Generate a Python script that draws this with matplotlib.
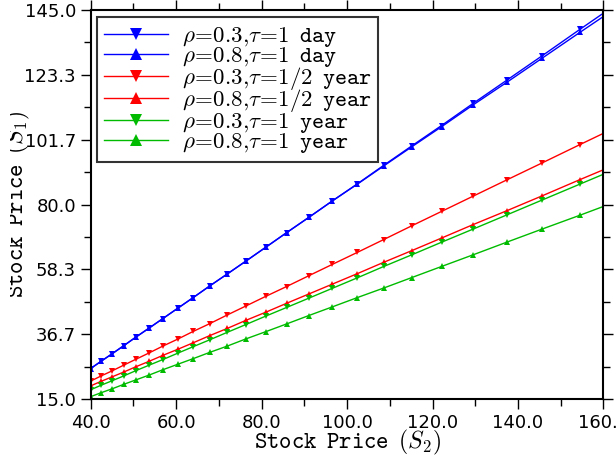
import numpy as np
import matplotlib
matplotlib.use("Agg")
import matplotlib.pyplot as plt
from matplotlib.transforms import Bbox

# S2 grid (log-spaced samples, last one lies past the right edge)
S2 = [40.00, 42.42, 44.99, 47.71, 50.59, 53.66, 56.90, 60.34, 63.99, 67.87,
      71.97, 76.33, 80.95, 85.85, 91.04, 96.55, 102.39, 108.58, 115.15, 122.11,
      129.50, 137.33, 145.64, 154.45, 163.79]

day_r03 = [25.2, 27.6, 30.1, 32.8, 35.7, 38.7, 41.9, 45.3, 48.9, 52.8,
           56.8, 61.1, 65.7, 70.6, 75.7, 81.2, 86.9, 93.1, 99.6, 106.4,
           113.8, 121.5, 129.7, 138.5, 147.7]
day_r08 = [25.2, 27.6, 30.1, 32.8, 35.7, 38.7, 41.9, 45.3, 48.9, 52.8,
           56.8, 61.1, 65.7, 70.6, 75.7, 81.2, 86.8, 92.9, 99.3, 106.0,
           113.3, 120.8, 128.9, 137.5, 146.5]
half_r03 = [21.0, 22.7, 24.4, 26.3, 28.3, 30.4, 32.7, 35.0, 37.6, 40.2,
            43.1, 46.1, 49.3, 52.6, 56.2, 60.0, 64.0, 68.3, 72.9, 77.7,
            82.8, 88.2, 93.9, 100.0, 106.4]
half_r08 = [19.4, 20.9, 22.4, 24.0, 25.8, 27.6, 29.6, 31.6, 33.8, 36.2,
            38.6, 41.3, 44.0, 47.0, 50.1, 53.4, 56.9, 60.7, 64.6, 68.8,
            73.3, 77.9, 82.9, 88.3, 93.9]
year_r03 = [18.1, 19.6, 21.1, 22.7, 24.5, 26.3, 28.2, 30.3, 32.5, 34.8,
            37.3, 39.9, 42.7, 45.6, 48.7, 52.0, 55.5, 59.3, 63.2, 67.4,
            71.8, 76.5, 81.5, 86.8, 92.4]
year_r08 = [15.8, 17.1, 18.4, 19.9, 21.4, 23.0, 24.8, 26.6, 28.5, 30.6,
            32.7, 35.1, 37.5, 40.1, 42.9, 45.8, 48.9, 52.1, 55.6, 59.3,
            63.2, 67.4, 71.8, 76.4, 81.4]

labels = [
    r"$\rho\!=\!\mathsf{0.3}{,}\tau\!=\!\mathsf{1}\enspace\mathtt{day}$",
    r"$\rho\!=\!\mathsf{0.8}{,}\tau\!=\!\mathsf{1}\enspace\mathtt{day}$",
    r"$\rho\!=\!\mathsf{0.3}{,}\tau\!=\!\mathsf{1/2}\enspace\mathtt{year}$",
    r"$\rho\!=\!\mathsf{0.8}{,}\tau\!=\!\mathsf{1/2}\enspace\mathtt{year}$",
    r"$\rho\!=\!\mathsf{0.3}{,}\tau\!=\!\mathsf{1}\enspace\mathtt{year}$",
    r"$\rho\!=\!\mathsf{0.8}{,}\tau\!=\!\mathsf{1}\enspace\mathtt{year}$",
]
series = [day_r03, day_r08, half_r03, half_r08, year_r03, year_r08]

COLORS = ["#0000ff", "#0000ff", "#ff0000", "#ff0000", "#00bb00", "#00bb00"]
MARKERS = ["v", "^", "v", "^", "v", "^"]

plt.rcParams.update({
    "mathtext.fontset": "cm",
    "font.family": "DejaVu Sans",
    "axes.linewidth": 1.5,
})

fig = plt.figure(figsize=(6.16, 4.55), dpi=100)
ax = fig.add_axes([0.1472, 0.123, 0.8325, 0.855])

for ys, lab, c, m in zip(series, labels, COLORS, MARKERS):
    ax.plot(S2, ys, color=c, lw=1.0, marker=m, markersize=4.5,
            markeredgewidth=0, label=lab)

ax.set_xlim(40, 160)
ax.set_ylim(15, 145)

ax.set_xticks(np.arange(40, 161, 20))
ax.set_xticks(np.arange(40, 161, 10), minor=True)
ax.set_xticklabels([f"{v:.1f}" for v in np.arange(40, 161, 20)])
yt = np.linspace(15, 145, 7)
ax.set_yticks(yt)
ax.set_yticks(np.linspace(15, 145, 13), minor=True)
ax.set_yticklabels([f"{v:.1f}" for v in yt])

ax.tick_params(which="both", direction="out", top=True, right=True,
               labelsize=13, width=1.0)
ax.tick_params(which="major", length=7)
ax.tick_params(which="minor", length=5)

ax.set_xlabel(r"$\mathtt{Stock}\enspace\mathtt{Price}\enspace(S_2)$", fontsize=17)
ax.set_ylabel(r"$\mathtt{Stock}\enspace\mathtt{Price}\enspace(S_1)$", fontsize=17)
ax.xaxis.set_label_coords(0.5, -0.074)
ax.yaxis.set_label_coords(-0.114, 0.5)
# the reference has the left side of the y label cut off
ax.yaxis.label.set_clip_box(Bbox.from_extents(10, 0, 616, 455))
ax.yaxis.label.set_clip_on(True)

leg = ax.legend(loc="upper left", bbox_to_anchor=(0.012, 0.982),
                borderaxespad=0, fontsize=16.5, fancybox=False,
                markerscale=2.0, handlelength=2.8, labelspacing=-0.2,
                handletextpad=0.6, borderpad=0.3, framealpha=1)
leg.get_frame().set_edgecolor("#333333")
leg.get_frame().set_linewidth(1.5)

fig.savefig("out.png", dpi=100)
